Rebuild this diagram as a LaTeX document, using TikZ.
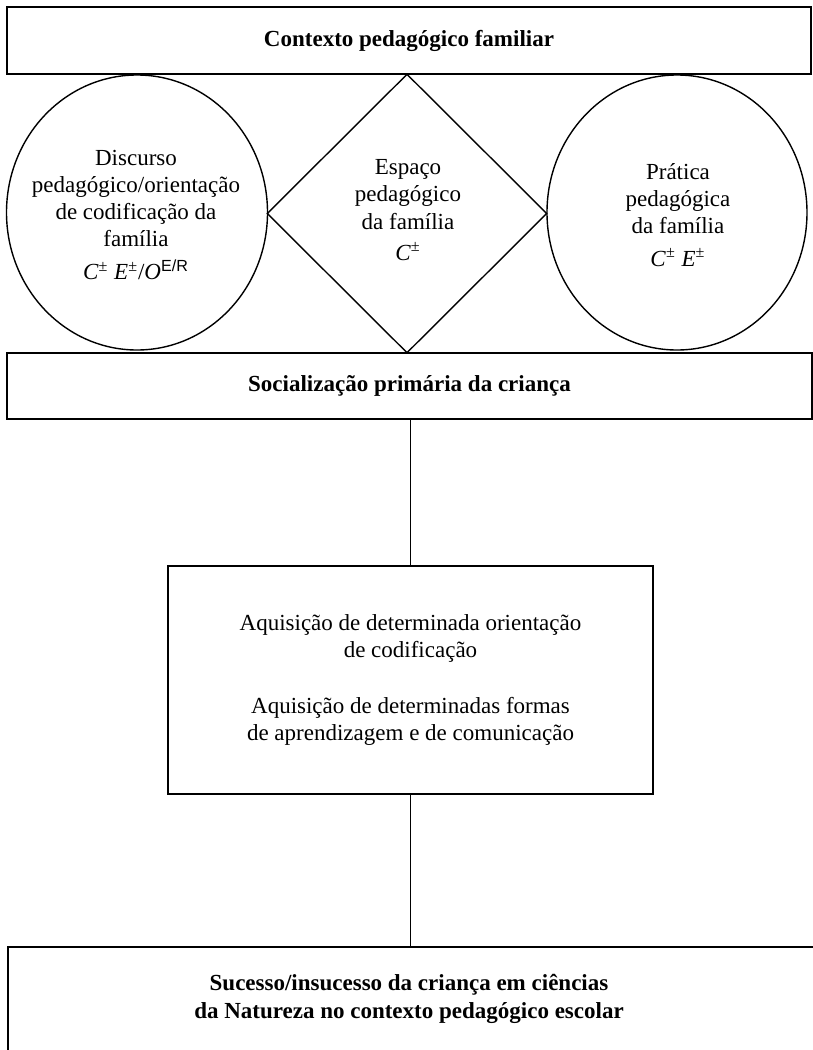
\documentclass[tikz,border=0pt]{standalone}
\usepackage{fontspec}
\setmainfont{Liberation Serif}
\setsansfont{Liberation Sans}
\usetikzlibrary{shapes.geometric}
\newcommand{\pmsup}[1]{\textit{#1}\textsuperscript{\textup{±}}}
\tikzset{
  every node/.style={font=\fontsize{11.5}{13.6}\selectfont},
  framebox/.style={draw,line width=.7pt,inner sep=0pt,align=center},
  boldtext/.style={font=\fontsize{11.5}{13.6}\selectfont\bfseries,align=center},
  plaintext/.style={align=center,inner sep=0pt},
  famellipse/.style={draw,ellipse,line width=.7pt,inner sep=0pt},
  famdiamond/.style={draw,diamond,aspect=1,line width=.7pt,inner sep=0pt},
  link/.style={line width=.7pt}
}

\begin{document}
\begin{tikzpicture}[x=0.5pt,y=-0.5pt]
\clip (0,0) rectangle (813,1050);
\node[framebox,boldtext,minimum width=402pt,minimum height=33.5pt] (contexto) at (409,40.5) {Contexto pedagógico familiar};
\node[famellipse,minimum width=130.5pt,minimum height=137.5pt] (discurso) at (137,212.5) {};
\node[famdiamond,minimum width=140pt,minimum height=139.5pt] (espaco) at (407,213.5) {};
\node[famellipse,minimum width=130pt,minimum height=137.5pt] (pratica) at (677,212.5) {};
\node[plaintext] (discursotxt) at (136,215) {Discurso\\pedagógico/orientação\\de codificação da\\família\\[3pt]\pmsup{C}\ \pmsup{E}/\textit{O}\textsuperscript{\textsf{E/R}}};
\node[plaintext] (espacotxt) at (408,210) {Espaço\\pedagógico\\da família\\[2pt]\pmsup{C}};
\node[plaintext] (praticatxt) at (678,215) {Prática\\pedagógica\\da família\\[3pt]\pmsup{C}\ \pmsup{E}};
\node[framebox,boldtext,minimum width=402.5pt,minimum height=33pt] (social) at (409.5,386) {Socialização primária da criança};
\node[framebox,minimum width=242.5pt,minimum height=114pt] (aquis) at (410.5,680) {Aquisição de determinada orientação\\de codificação\\[14pt]Aquisição de determinadas formas\\de aprendizagem e de comunicação};
\node[framebox,minimum width=411pt,minimum height=76.5pt] (sucesso) at (419,1023.5) {};
\node[boldtext,inner sep=0pt] (sucessotxt) at (409,999) {Sucesso/insucesso da criança em ciências\\[0.5pt]da Natureza no contexto pedagógico escolar};
\draw[link] (aquis.north) -- (aquis.north |- social.south);
\draw[link] (aquis.south) -- (aquis.south |- sucesso.north);
\end{tikzpicture}
\end{document}
